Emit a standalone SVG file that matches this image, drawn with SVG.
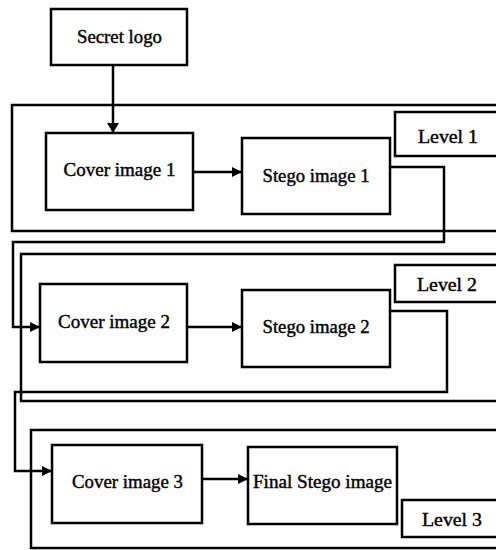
<svg xmlns="http://www.w3.org/2000/svg" width="496" height="550" viewBox="0 0 496 550">
<defs>
<style>
.box{fill:#fff;stroke:#000;stroke-width:2.5}
.lvl{fill:none;stroke:#000;stroke-width:2.5}
.lab{fill:#fff;stroke:#000;stroke-width:2.5}
.c{fill:none;stroke:#000;stroke-width:2.5}
.t{font-family:"Liberation Serif","Times New Roman",serif;font-size:18px;fill:#000;text-anchor:middle;stroke:#000;stroke-width:0.4}
</style>
<marker id="ah" markerUnits="userSpaceOnUse" viewBox="0 0 10 10" refX="10" refY="5" markerWidth="10" markerHeight="10" orient="auto">
<path d="M0,0 L10,5 L0,10 z" fill="#000"/>
</marker>
<marker id="ahb" markerUnits="userSpaceOnUse" viewBox="0 0 10 12" refX="10" refY="6" markerWidth="10" markerHeight="12" orient="auto">
<path d="M0,0 L10,6 L0,12 z" fill="#000"/>
</marker>
</defs>
<rect width="496" height="550" fill="#fff"/>
<g id="level1-frame"><rect class="lvl" x="12" y="105" width="490" height="126"/></g>
<g id="level2-frame"><rect class="lvl" x="21" y="254" width="480" height="147"/></g>
<g id="level3-frame"><rect class="lvl" x="31" y="430" width="470" height="118"/></g>
<g id="connectors">
<path class="c" d="M113,65 V133" stroke-width="3.5" marker-end="url(#ahb)"/>
<path class="c" d="M193,172 H242" marker-end="url(#ah)"/>
<path class="c" d="M390,167 H444 V242 H13 V327 H40" marker-end="url(#ah)"/>
<path class="c" d="M187,327 H242" marker-end="url(#ah)"/>
<path class="c" d="M390,311 H447 V392 H15 V471 H52" marker-end="url(#ah)"/>
<path class="c" d="M202,479 H248" marker-end="url(#ah)"/>
</g>
<g id="secret-logo"><rect class="box" x="51" y="9" width="136" height="56"/><text class="t" x="119.5" y="43" textLength="85" lengthAdjust="spacingAndGlyphs">Secret logo</text></g>
<g id="level1-label"><rect class="lab" x="395" y="112" width="110" height="44"/><text class="t" x="448" y="143" textLength="60" lengthAdjust="spacingAndGlyphs">Level 1</text></g>
<g id="cover1"><rect class="box" x="46" y="133" width="147" height="77"/><text class="t" x="119.5" y="176" textLength="112" lengthAdjust="spacingAndGlyphs">Cover image 1</text></g>
<g id="stego1"><rect class="box" x="242" y="138" width="148" height="76"/><text class="t" x="316" y="182" textLength="107" lengthAdjust="spacingAndGlyphs">Stego image 1</text></g>
<g id="level2-label"><rect class="lab" x="395" y="265" width="110" height="37"/><text class="t" x="447" y="291" textLength="60" lengthAdjust="spacingAndGlyphs">Level 2</text></g>
<g id="cover2"><rect class="box" x="40" y="284" width="147" height="78"/><text class="t" x="114" y="328" textLength="112" lengthAdjust="spacingAndGlyphs">Cover image 2</text></g>
<g id="stego2"><rect class="box" x="242" y="290" width="148" height="77"/><text class="t" x="316" y="333" textLength="107" lengthAdjust="spacingAndGlyphs">Stego image 2</text></g>
<g id="cover3"><rect class="box" x="52" y="445" width="150" height="78"/><text class="t" x="127.5" y="488" textLength="111" lengthAdjust="spacingAndGlyphs">Cover image 3</text></g>
<g id="final-stego"><rect class="box" x="248" y="447" width="149" height="77"/><text class="t" x="322.5" y="488" textLength="139" lengthAdjust="spacingAndGlyphs">Final Stego image</text></g>
<g id="level3-label"><rect class="lab" x="402" y="500" width="110" height="37"/><text class="t" x="452" y="526" textLength="60" lengthAdjust="spacingAndGlyphs">Level 3</text></g>
</svg>
